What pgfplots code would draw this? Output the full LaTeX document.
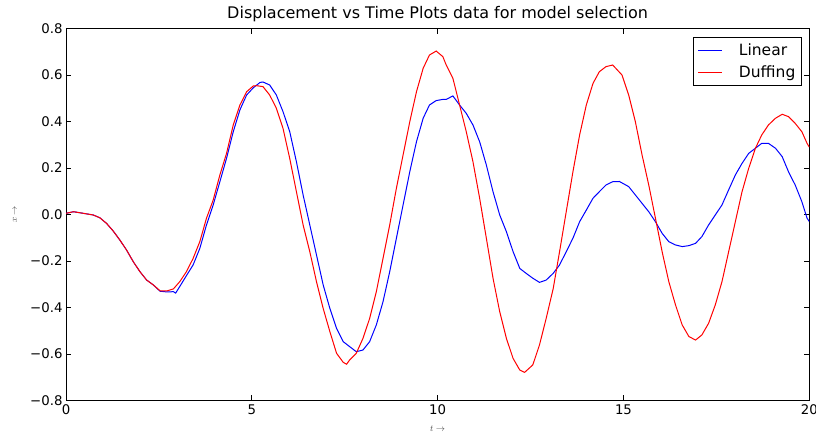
\documentclass[border=0pt]{standalone}
\usepackage{pgfplots}
\pgfplotsset{compat=1.18}
\usepackage{fontspec}
\setmainfont{DejaVu Sans}
\begin{document}
\begin{tikzpicture}
\useasboundingbox (-66bp,-32.5bp) rectangle (750bp,400.5bp);
\begin{axis}[
  at={(0,0)}, anchor=south west,
  scale only axis, width=743.3bp, height=372bp,
  xmin=0, xmax=20, ymin=-0.8, ymax=0.8,
  xtick={0,5,10,15,20}, xticklabels={0,5,10,15,20},
  ytick={-0.8,-0.6,-0.4,-0.2,0,0.2,0.4,0.6,0.8},
  yticklabels={−0.8,−0.6,−0.4,−0.2,0.0,0.2,0.4,0.6,0.8},
  tick align=inside, major tick length=5bp,
  tick style={black, line width=0.8bp},
  ticklabel style={font=\fontsize{13.3bp}{15bp}\selectfont},
  xticklabel style={yshift=-1bp},
  axis line style={black, line width=1bp},
  title={Displacement vs Time Plots data for model selection},
  title style={font=\fontsize{16bp}{18bp}\selectfont, yshift=-3bp},
  xlabel={$t\rightarrow$}, ylabel={$x\rightarrow$},
  label style={font=\fontsize{9bp}{10bp}\selectfont, text=black!70},
  xlabel style={at={(rel axis cs:0.5,0)}, anchor=center, yshift=-28bp},
  ylabel style={at={(rel axis cs:0,0.5)}, anchor=center, yshift=51bp},
  legend style={at={(rel axis cs:0.99,0.978)}, anchor=north east,
    draw=black, line width=1bp, font=\fontsize{15.5bp}{17bp}\selectfont,
    inner xsep=4bp, inner ysep=5bp, row sep=4bp, legend cell align=left,
    /tikz/every odd column/.append style={column sep=14bp}},
  legend image code/.code={\draw[#1, line width=1.1bp] (4bp,0bp) -- (28bp,0bp);},
]
\addplot[blue, line width=1bp] coordinates {
(0,0.005) (0.2,0.012) (0.47,0.005) (0.73,-0.002) (0.91,-0.014) (1.09,-0.038)
(1.27,-0.071) (1.45,-0.11) (1.63,-0.153) (1.81,-0.203) (1.99,-0.246)
(2.17,-0.282) (2.35,-0.303) (2.53,-0.33) (2.71,-0.333) (2.89,-0.332)
(2.95,-0.338) (3.06,-0.31) (3.24,-0.263) (3.42,-0.217) (3.60,-0.146)
(3.78,-0.045) (3.96,0.041) (4.14,0.141) (4.32,0.242) (4.50,0.356)
(4.68,0.45) (4.86,0.514) (5.04,0.545) (5.22,0.568) (5.30,0.570)
(5.48,0.557) (5.66,0.514) (5.84,0.442) (6.02,0.356) (6.20,0.227)
(6.38,0.084) (6.56,-0.045) (6.74,-0.174) (6.92,-0.303) (7.10,-0.404)
(7.28,-0.49) (7.46,-0.547) (7.63,-0.568) (7.81,-0.59) (7.99,-0.583)
(8.17,-0.547) (8.35,-0.475) (8.53,-0.375) (8.71,-0.246) (8.89,-0.102)
(9.07,0.041) (9.25,0.184) (9.43,0.313) (9.61,0.414) (9.78,0.471)
(9.96,0.49) (10.14,0.495) (10.23,0.495) (10.41,0.51) (10.59,0.471)
(10.77,0.435) (10.95,0.385) (11.13,0.313) (11.31,0.213) (11.49,0.098)
(11.67,-0.002) (11.85,-0.074) (12.03,-0.16) (12.21,-0.232) (12.38,-0.253)
(12.56,-0.274) (12.74,-0.292) (12.92,-0.282) (13.11,-0.253) (13.28,-0.217)
(13.46,-0.16) (13.64,-0.102) (13.82,-0.031) (14.00,0.019) (14.18,0.07)
(14.35,0.098) (14.53,0.127) (14.71,0.141) (14.89,0.142) (15.14,0.12)
(15.32,0.084) (15.50,0.048) (15.68,0.012) (15.86,-0.031) (16.04,-0.081)
(16.22,-0.117) (16.40,-0.131) (16.58,-0.138) (16.76,-0.134) (16.94,-0.124)
(17.11,-0.095) (17.29,-0.045) (17.47,-0.002) (17.65,0.041) (17.83,0.106)
(18.01,0.17) (18.19,0.22) (18.37,0.263) (18.55,0.285) (18.72,0.306)
(18.90,0.306) (19.09,0.285) (19.27,0.249) (19.44,0.184) (19.62,0.127)
(19.80,0.055) (19.94,-0.016) (20,-0.03)
};
\addlegendentry{Linear}
\addplot[red, line width=1bp] coordinates {
(0,0.005) (0.2,0.012) (0.47,0.005) (0.73,-0.002) (0.91,-0.014) (1.09,-0.038)
(1.27,-0.071) (1.45,-0.11) (1.63,-0.153) (1.81,-0.203) (1.99,-0.246)
(2.17,-0.282) (2.35,-0.303) (2.53,-0.328) (2.71,-0.329) (2.89,-0.32)
(3.06,-0.289) (3.24,-0.246) (3.42,-0.189) (3.60,-0.117) (3.78,-0.016)
(3.96,0.062) (4.14,0.17) (4.32,0.263) (4.50,0.385) (4.68,0.471)
(4.86,0.528) (5.04,0.553) (5.13,0.554) (5.30,0.55) (5.48,0.514)
(5.66,0.457) (5.84,0.37) (6.02,0.241) (6.20,0.098) (6.38,-0.045)
(6.56,-0.16) (6.74,-0.289) (6.92,-0.404) (7.10,-0.504) (7.28,-0.597)
(7.46,-0.636) (7.55,-0.644) (7.63,-0.626) (7.81,-0.597) (7.99,-0.533)
(8.17,-0.447) (8.35,-0.332) (8.53,-0.189) (8.71,-0.045) (8.89,0.113)
(9.07,0.256) (9.25,0.399) (9.43,0.528) (9.61,0.629) (9.78,0.686)
(9.96,0.703) (10.14,0.679) (10.23,0.643) (10.41,0.586) (10.59,0.471)
(10.77,0.356) (10.95,0.227) (11.13,0.07) (11.31,-0.102) (11.49,-0.274)
(11.67,-0.418) (11.85,-0.533) (12.03,-0.619) (12.21,-0.669) (12.34,-0.679)
(12.56,-0.647) (12.74,-0.561) (12.92,-0.447) (13.11,-0.318) (13.28,-0.16)
(13.46,0.012) (13.64,0.184) (13.82,0.342) (14.00,0.471) (14.18,0.564)
(14.35,0.614) (14.53,0.636) (14.71,0.643) (14.96,0.6) (15.14,0.514)
(15.32,0.399) (15.50,0.256) (15.68,0.127) (15.86,-0.016) (16.04,-0.16)
(16.22,-0.289) (16.40,-0.389) (16.58,-0.475) (16.76,-0.525) (16.94,-0.54)
(17.11,-0.518) (17.29,-0.468) (17.47,-0.389) (17.65,-0.289) (17.83,-0.16)
(18.01,-0.031) (18.19,0.098) (18.37,0.199) (18.55,0.285) (18.72,0.342)
(18.90,0.385) (19.09,0.414) (19.27,0.431) (19.44,0.421) (19.62,0.392)
(19.80,0.356) (19.94,0.306) (20,0.29)
};
\addlegendentry{Duffing}
\end{axis}
\end{tikzpicture}
\end{document}
